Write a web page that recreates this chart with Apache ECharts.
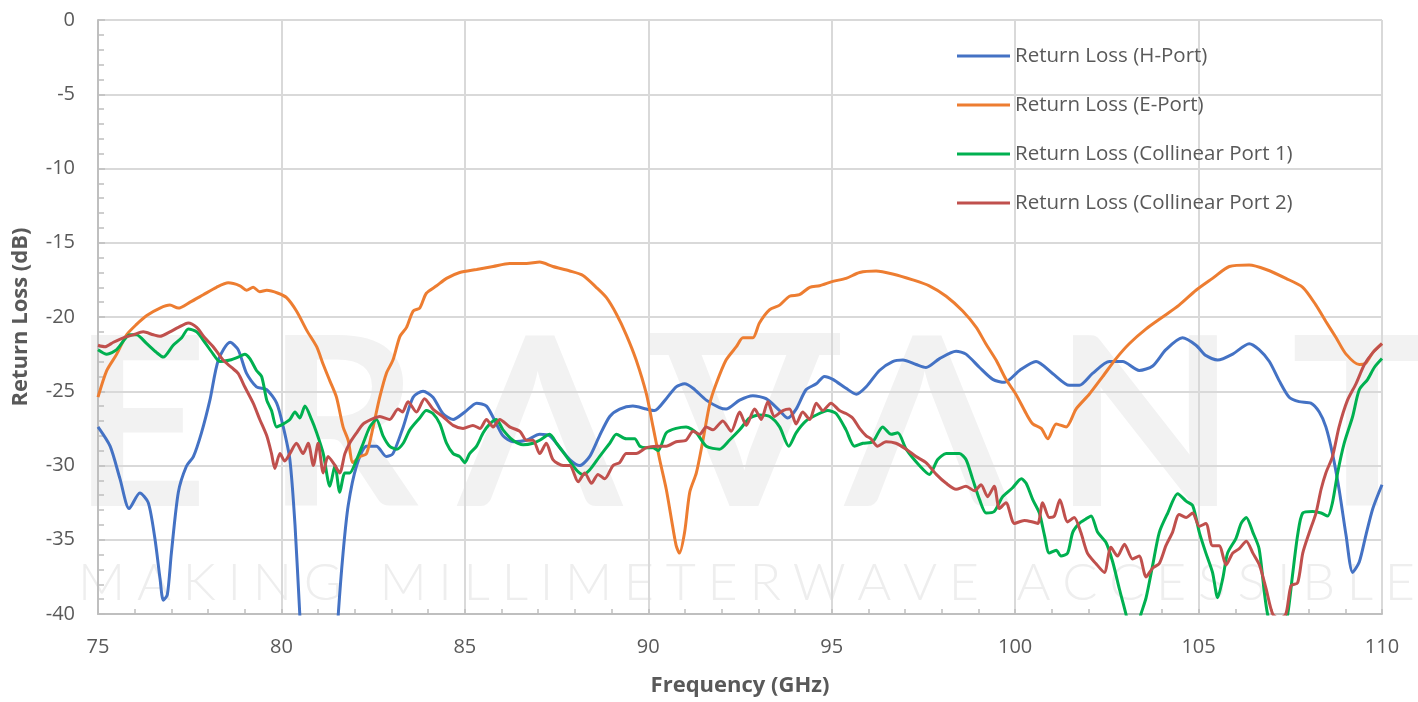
<!DOCTYPE html>
<html><head><meta charset="utf-8">
<script src="https://cdn.jsdelivr.net/npm/echarts@6/dist/echarts.min.js"></script>
<style>html,body{margin:0;padding:0;background:#fff;overflow:hidden}#c{width:1418px;height:702px}</style>
</head><body><div id="c"></div>
<script>
const seriesNames = ['Return Loss (H-Port)','Return Loss (E-Port)','Return Loss (Collinear Port 1)','Return Loss (Collinear Port 2)'];
const xTicks = [75,80,85,90,95,100,105,110];
const yTicks = [0,-5,-10,-15,-20,-25,-30,-35,-40];

const hFreq = [75.0,75.33,75.6,75.85,76.14,76.37,76.55,76.69,76.78,76.89,77.0,77.19,77.41,77.6,77.82,78.05,78.28,78.6,78.82,79.05,79.32,79.6,79.87,80.05,80.23,80.37,80.5,80.65,81.0,81.4,81.55,81.68,81.82,82.05,82.32,82.59,82.86,83.04,83.32,83.59,83.86,84.13,84.4,84.68,85.0,85.32,85.59,85.86,86.04,86.31,86.68,87.04,87.31,87.59,87.86,88.13,88.4,88.67,88.95,89.22,89.58,89.95,90.17,90.49,90.76,90.99,91.22,91.58,91.94,92.12,92.49,92.85,93.21,93.58,93.8,94.03,94.3,94.58,94.8,95.03,95.39,95.67,95.94,96.3,96.66,96.94,97.3,97.57,97.94,98.39,98.66,99.03,99.39,99.71,100.12,100.57,101.02,101.48,101.75,102.11,102.57,102.93,103.38,103.75,104.11,104.56,104.93,105.2,105.52,105.93,106.38,106.65,106.93,107.2,107.47,107.74,108.06,108.29,108.47,108.65,108.83,109.02,109.2,109.38,109.56,109.75,110.0];
const hRL = [-27.4,-28.7,-30.9,-32.9,-31.85,-32.5,-34.9,-37.6,-39.07,-38.7,-35.9,-31.8,-30.05,-29.4,-27.8,-25.6,-22.9,-21.7,-22.2,-23.8,-24.7,-24.9,-25.8,-27.4,-29.6,-34,-40,-46,-50,-46,-40,-35.9,-32.7,-30,-28.7,-28.7,-29.4,-29.2,-27.4,-25.4,-25.0,-25.4,-26.5,-26.9,-26.4,-25.8,-26.0,-27.2,-28.0,-28.4,-28.3,-27.9,-28.0,-28.8,-29.6,-30.0,-29.4,-28.0,-26.7,-26.2,-26.0,-26.2,-26.3,-25.5,-24.7,-24.5,-24.8,-25.6,-26.1,-26.2,-25.6,-25.3,-25.5,-26.3,-26.8,-26.2,-24.9,-24.5,-24.0,-24.2,-24.8,-25.2,-24.7,-23.6,-23.0,-22.9,-23.2,-23.4,-22.8,-22.3,-22.5,-23.4,-24.2,-24.4,-23.6,-23.0,-23.8,-24.6,-24.6,-23.8,-23.0,-23.0,-23.6,-23.3,-22.2,-21.4,-21.9,-22.6,-22.9,-22.5,-21.8,-22.2,-23.0,-24.3,-25.4,-25.7,-25.8,-26.4,-27.4,-29.2,-31.6,-34.7,-37.2,-36.5,-34.7,-32.9,-31.3];

const eFreq = [75.0,75.24,75.51,75.78,76.05,76.33,76.69,76.96,77.19,77.51,77.87,78.23,78.55,78.87,79.05,79.23,79.41,79.6,79.91,80.14,80.41,80.69,80.96,81.14,81.32,81.5,81.68,81.82,81.95,82.14,82.32,82.5,82.68,82.86,83.04,83.23,83.41,83.59,83.77,83.95,84.23,84.5,84.86,85.32,85.77,86.22,86.68,87.04,87.4,87.86,88.22,88.58,88.86,89.13,89.4,89.67,89.95,90.13,90.31,90.49,90.63,90.76,90.85,90.99,91.13,91.31,91.49,91.68,91.85,92.12,92.4,92.58,92.85,93.03,93.31,93.58,93.85,94.12,94.4,94.67,95.03,95.39,95.76,96.21,96.66,97.21,97.66,98.12,98.57,98.94,99.2,99.48,99.75,100.02,100.3,100.48,100.71,100.89,101.12,101.39,101.66,102.02,102.39,102.75,103.11,103.57,104.02,104.47,104.93,105.38,105.84,106.38,106.84,107.38,107.84,108.2,108.47,108.75,109.02,109.38,109.56,109.75,110.0];
const eRL = [-25.4,-23.6,-22.5,-21.2,-20.5,-19.9,-19.4,-19.2,-19.4,-19.0,-18.5,-18.0,-17.7,-17.9,-18.2,-18.0,-18.3,-18.2,-18.4,-18.7,-19.6,-20.9,-22.0,-23.2,-24.3,-25.4,-27.4,-28.3,-29.8,-29.4,-29.2,-27.4,-25.4,-23.8,-22.9,-21.3,-20.7,-19.6,-19.4,-18.4,-17.9,-17.4,-17.0,-16.8,-16.6,-16.4,-16.4,-16.3,-16.6,-16.9,-17.2,-18.0,-18.7,-19.8,-21.2,-22.9,-25.2,-27.4,-29.6,-31.6,-33.6,-35.4,-35.9,-34.5,-31.8,-30.5,-28.3,-25.8,-24.5,-22.9,-22.0,-21.4,-21.4,-20.4,-19.5,-19.2,-18.6,-18.5,-18.0,-17.9,-17.6,-17.4,-17.0,-16.9,-17.1,-17.5,-17.9,-18.6,-19.6,-20.7,-21.8,-22.9,-24.2,-25.2,-26.5,-27.2,-27.5,-28.2,-27.2,-27.4,-26.2,-25.2,-24.0,-22.8,-21.8,-20.8,-20.0,-19.2,-18.2,-17.4,-16.6,-16.5,-16.8,-17.4,-18.0,-19.2,-20.3,-21.4,-22.5,-23.2,-23.1,-22.4,-21.8];

const c1Freq = [75.0,75.24,75.51,75.87,76.05,76.33,76.6,76.78,77.05,77.28,77.46,77.69,77.91,78.14,78.32,78.6,78.82,79.0,79.14,79.32,79.46,79.6,79.73,79.87,80.05,80.23,80.37,80.5,80.64,80.82,80.96,81.14,81.32,81.46,81.59,81.73,81.86,82.05,82.23,82.41,82.59,82.77,82.95,83.14,83.32,83.5,83.77,83.95,84.13,84.32,84.5,84.68,84.86,85.0,85.13,85.32,85.5,85.68,85.86,86.04,86.31,86.59,86.86,87.04,87.31,87.5,87.77,88.04,88.22,88.4,88.67,88.95,89.13,89.4,89.63,89.77,89.95,90.13,90.27,90.49,90.76,91.03,91.31,91.58,91.94,92.21,92.49,92.76,93.03,93.31,93.58,93.83,94.03,94.3,94.58,94.89,95.12,95.39,95.62,95.85,96.12,96.39,96.62,96.8,97.03,97.39,97.66,97.89,98.12,98.48,98.66,98.84,99.03,99.21,99.43,99.66,99.93,100.17,100.3,100.48,100.66,100.8,100.93,101.12,101.25,101.43,101.57,101.75,101.93,102.07,102.25,102.48,102.66,102.84,103.02,103.2,103.43,103.57,103.75,103.93,104.16,104.43,104.66,104.84,105.02,105.2,105.38,105.52,105.66,105.79,106.02,106.16,106.3,106.48,106.65,106.79,106.88,107.15,107.43,107.56,107.7,107.84,108.11,108.34,108.52,108.65,108.79,108.97,109.2,109.38,109.61,109.79,110.0];
const c1RL = [-22.2,-22.5,-22.2,-21.2,-21.2,-21.8,-22.4,-22.7,-21.9,-21.4,-20.8,-21.0,-21.7,-22.5,-23.0,-22.9,-22.7,-22.5,-22.8,-23.6,-24.0,-25.6,-26.3,-27.4,-27.2,-26.9,-26.4,-26.8,-26.0,-26.9,-27.8,-29.2,-31.4,-30.0,-31.8,-30.5,-30.5,-29.6,-28.5,-27.4,-26.9,-28.0,-28.7,-28.9,-28.5,-27.6,-26.8,-26.3,-26.5,-27.2,-28.5,-29.2,-29.4,-29.8,-29.2,-28.7,-27.8,-27.2,-26.9,-27.6,-28.3,-28.6,-28.5,-28.3,-27.9,-28.5,-29.4,-30.3,-30.6,-30.3,-29.4,-28.5,-27.9,-28.2,-28.2,-28.7,-28.8,-28.8,-29.0,-27.8,-27.5,-27.4,-27.8,-28.7,-28.9,-28.3,-27.6,-26.8,-26.6,-26.7,-27.4,-28.7,-27.8,-27.0,-26.6,-26.3,-26.5,-27.6,-28.7,-28.5,-28.4,-27.4,-27.9,-27.8,-28.9,-30.0,-30.6,-29.6,-29.2,-29.2,-29.6,-30.9,-32.3,-33.2,-33.1,-32.1,-31.5,-30.9,-31.2,-32.3,-33.2,-34.7,-35.9,-35.7,-36.1,-35.9,-34.5,-33.9,-33.6,-33.4,-34.5,-35.2,-36.5,-38.3,-40,-42,-40,-38.9,-36.7,-34.5,-33.2,-31.9,-32.4,-32.7,-34.5,-35.9,-37.2,-38.9,-37.6,-35.9,-34.9,-33.9,-33.5,-34.5,-35.6,-38.5,-40,-43,-40,-37.4,-34.7,-33.2,-33.1,-33.2,-33.4,-32.5,-30.5,-28.5,-26.7,-24.9,-24.2,-23.4,-22.8];

const c2Freq = [75.0,75.19,75.42,75.69,75.96,76.23,76.51,76.69,76.96,77.19,77.46,77.69,77.91,78.14,78.41,78.64,78.82,79.0,79.23,79.41,79.6,79.73,79.82,79.96,80.09,80.23,80.41,80.59,80.73,80.87,81.0,81.14,81.27,81.46,81.59,81.73,81.86,82.05,82.23,82.45,82.68,82.95,83.18,83.3,83.45,83.68,83.9,84.13,84.4,84.68,84.95,85.22,85.41,85.59,85.77,85.95,86.22,86.5,86.68,86.86,87.04,87.22,87.4,87.68,87.86,88.09,88.27,88.45,88.63,88.81,89.04,89.22,89.4,89.67,89.95,90.22,90.49,90.76,91.03,91.22,91.4,91.58,91.76,92.03,92.26,92.49,92.67,92.9,93.08,93.26,93.44,93.67,93.85,94.03,94.21,94.4,94.58,94.76,94.98,95.21,95.39,95.57,95.76,95.94,96.07,96.25,96.48,96.75,97.03,97.3,97.57,97.85,98.12,98.39,98.66,98.89,99.07,99.25,99.43,99.57,99.75,99.98,100.25,100.48,100.62,100.75,100.93,101.07,101.22,101.43,101.61,101.79,101.97,102.2,102.43,102.61,102.79,102.98,103.2,103.38,103.57,103.75,103.93,104.11,104.29,104.47,104.66,104.84,105.02,105.2,105.38,105.56,105.75,105.93,106.11,106.3,106.48,106.66,106.84,107.02,107.2,107.38,107.52,107.7,107.84,108.02,108.2,108.34,108.47,108.65,108.83,109.06,109.29,109.52,109.75,110.0];
const c2RL = [-21.9,-22.0,-21.7,-21.4,-21.2,-21.0,-21.2,-21.3,-21.0,-20.7,-20.4,-20.7,-21.4,-22.0,-22.9,-23.4,-23.8,-24.7,-25.8,-26.9,-28.0,-29.2,-30.2,-29.2,-29.7,-29.2,-28.5,-29.2,-28.5,-30.0,-28.5,-30.5,-29.4,-30.0,-30.5,-29.2,-28.5,-27.8,-27.2,-26.9,-26.7,-26.9,-26.2,-26.4,-25.7,-26.4,-25.5,-26.2,-26.7,-27.3,-27.5,-27.3,-27.5,-26.9,-27.4,-26.9,-27.4,-27.7,-28.3,-28.3,-29.2,-28.5,-29.6,-30.0,-30.0,-31.1,-30.5,-31.2,-30.6,-30.9,-30.0,-29.8,-29.2,-29.2,-28.8,-28.7,-28.7,-28.4,-28.3,-27.7,-27.9,-27.4,-27.6,-27.0,-27.7,-26.4,-27.3,-26.2,-26.9,-25.7,-26.7,-26.3,-26.2,-27.2,-26.4,-26.9,-25.8,-26.3,-25.8,-26.3,-26.5,-26.8,-27.5,-28.0,-28.2,-28.7,-28.4,-28.5,-28.9,-29.4,-29.8,-30.6,-31.2,-31.6,-31.4,-31.7,-31.3,-32.1,-31.4,-32.9,-32.5,-33.9,-33.7,-33.8,-33.9,-32.5,-33.5,-33.4,-32.3,-33.8,-33.5,-34.5,-35.9,-36.6,-37.2,-35.5,-36.1,-35.3,-36.3,-36.1,-37.5,-36.9,-36.6,-35.4,-34.5,-33.3,-33.5,-33.2,-34.1,-33.9,-35.4,-35.4,-36.7,-35.9,-35.6,-35.1,-35.9,-36.7,-38.3,-40,-40.3,-40,-38.1,-37.9,-35.9,-34.5,-33.2,-31.6,-30.5,-29.4,-27.4,-25.6,-24.5,-23.2,-22.4,-21.8];

const colors = ['#4472C4','#ED7D31','#00B050','#C0504D'];
const freqs = [hFreq,eFreq,c1Freq,c2Freq];
const vals = [hRL,eRL,c1RL,c2RL];

const chart = echarts.init(document.getElementById('c'), null, {renderer:'canvas'});
const FONT = '"Open Sans", "Noto Sans", sans-serif';

// watermark (decorative logo text behind the plot)
const graphics = [];
const bigFont = '700 236px Lato, "Noto Sans", sans-serif';
const bigLetters = [['E',140],['R',342],['Λ',540],['V',744],['Λ',927],['N',1145],['T',1362]];
bigLetters.forEach(([ch,cx]) => {
  graphics.push({type:'text', silent:true, z:-10, style:{text:ch, x:cx, y:430, fill:'#f2f2f2', font:bigFont, align:'center', verticalAlign:'middle'}});
});
graphics.push({type:'rect', silent:true, z:-10, shape:{x:650, y:333, width:190, height:22}, style:{fill:'#f2f2f2'}});
const sub = 'MAKING MILLIMETERWAVE ACCESSIBLE';
const cv = document.createElement('canvas').getContext('2d');
const subFont = '300 52px Lato, "Noto Sans", sans-serif';
cv.font = subFont;
const widths = sub.split('').map(ch => cv.measureText(ch).width);
const total = widths.reduce((a,b)=>a+b,0);
const gap = (1415 - 78 - total) / (sub.length - 1);
let xx = 78;
sub.split('').forEach((ch,i) => {
  if (ch !== ' ') graphics.push({type:'text', silent:true, z:-10, style:{text:ch, x:xx, y:583, fill:'#eeeeee', font:subFont, align:'left', verticalAlign:'middle'}});
  xx += widths[i] + gap;
});

chart.setOption({
  animation:false,
  backgroundColor:'#ffffff',
  graphic: graphics,
  grid:{left:98, right:36, top:20, bottom:85, containLabel:false},
  legend:{orient:'vertical', left:957, top:45, padding:0, itemWidth:53, itemHeight:3, itemGap:27, icon:'rect',
    textStyle:{fontSize:20.5, color:'#595959', fontFamily:FONT, lineHeight:22}, data:seriesNames},
  xAxis:{type:'value', min:75, max:110, interval:5,
    name:'Frequency (GHz)', nameLocation:'middle', nameGap:61,
    nameTextStyle:{fontSize:22, fontWeight:'bold', color:'#595959', fontFamily:FONT},
    axisLine:{show:true, onZero:false, lineStyle:{color:'#bfbfbf', width:2}},
    axisTick:{show:true, inside:true, length:5, lineStyle:{color:'#bfbfbf', width:1.5}},
    minorTick:{show:true, splitNumber:5, length:5, lineStyle:{color:'#bfbfbf', width:1.5}},
    axisLabel:{fontSize:20, color:'#595959', fontFamily:FONT, margin:23, formatter: v => xTicks.includes(v) ? String(v) : ''},
    splitLine:{show:true, lineStyle:{color:'#d9d9d9', width:2}}},
  yAxis:{type:'value', min:-40, max:0, interval:5,
    name:'Return Loss (dB)', nameLocation:'middle', nameGap:66,
    nameTextStyle:{fontSize:22, fontWeight:'bold', color:'#595959', fontFamily:FONT},
    axisLine:{show:true, onZero:false, lineStyle:{color:'#bfbfbf', width:2}},
    axisTick:{show:true, inside:true, length:7, lineStyle:{color:'#bfbfbf', width:1.5}},
    minorTick:{show:true, splitNumber:5, length:6, lineStyle:{color:'#bfbfbf', width:1.5}},
    axisLabel:{fontSize:20, color:'#595959', fontFamily:FONT, margin:23, formatter: v => yTicks.includes(v) ? String(v) : ''},
    splitLine:{show:true, lineStyle:{color:'#d9d9d9', width:2}}},
  series: seriesNames.map((n,i) => ({
    name:n, type:'line', showSymbol:false, smooth:0.25, clip:true,
    color:colors[i], lineStyle:{color:colors[i], width:3},
    data: freqs[i].map((f,k) => [f, vals[i][k]])
  }))
});
</script></body></html>
